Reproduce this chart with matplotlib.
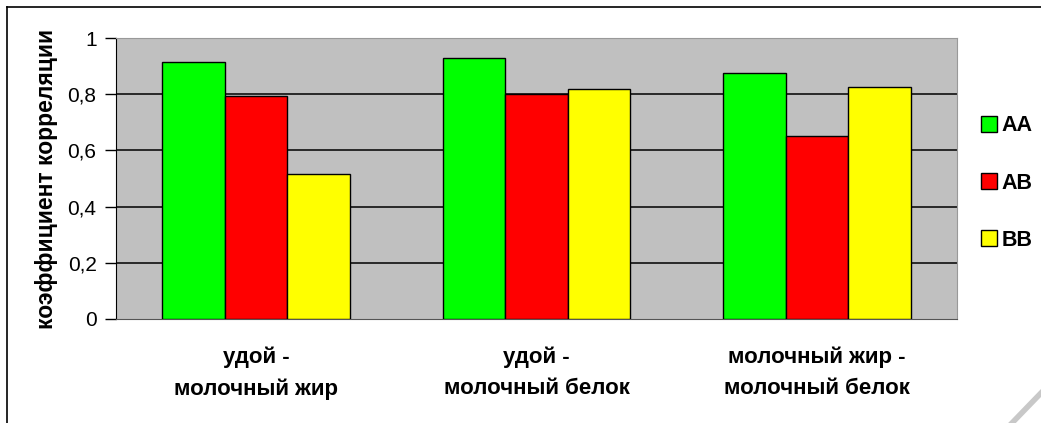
import numpy as np
import matplotlib
matplotlib.use("Agg")
import matplotlib.pyplot as plt
from matplotlib.ticker import FuncFormatter
from matplotlib.lines import Line2D

plt.rcParams['font.family'] = ['Liberation Sans', 'DejaVu Sans']

categories = ["удой -\nмолочный жир", "удой -\nмолочный белок", "молочный жир -\nмолочный белок"]
genotypes = ["AA", "AB", "BB"]
aa = [0.915, 0.93, 0.875]
ab = [0.795, 0.80, 0.652]
bb = [0.515, 0.818, 0.827]
colors = ["#00FF00", "#FF0000", "#FFFF00"]

fig = plt.figure(figsize=(10.41, 4.23), dpi=100)
ax = fig.add_axes([116/1041, 1-319/423, 841/1041, 281/423])
ax.set_facecolor("#C0C0C0")

x = np.arange(len(categories))
w = 0.223
for i, (vals, col, name) in enumerate(zip([aa, ab, bb], colors, genotypes)):
    ax.bar(x + (i-1)*w, vals, w, color=col, edgecolor="black", linewidth=1, label=name, zorder=3)

ax.set_xlim(-0.5, 2.5)
ax.set_ylim(0, 1)
ax.set_yticks([0, 0.2, 0.4, 0.6, 0.8, 1])
ax.yaxis.set_major_formatter(FuncFormatter(lambda v, p: ("%g" % round(v, 1)).replace(".", ",")))
ax.set_xticks(x)
ax.set_xticklabels(categories, fontsize=16, fontweight="bold", linespacing=1.6)
ax.tick_params(axis="x", length=0, pad=20)
ax.tick_params(axis="y", length=8, width=1, labelsize=15, pad=6, direction="out")
ax.set_ylabel("коэффициент корреляции", fontsize=16.5, fontweight="bold", labelpad=7)

for y in [0.2, 0.4, 0.6, 0.8]:
    ax.axhline(y, color="black", linewidth=1.1, zorder=1)
ax.axhline(1.0, color="#999999", linewidth=1.2, zorder=1)

for s in ["top", "right"]:
    ax.spines[s].set_color("#999999")
ax.spines["left"].set_color("black")
ax.spines["bottom"].set_color("#555555")

handles = [Line2D([], [], marker="s", linestyle="none", markersize=11,
                  markerfacecolor=c, markeredgecolor="black") for c in colors]
leg = fig.legend(handles, genotypes, loc="center left", bbox_to_anchor=(978/1041, 1-183/423),
                 frameon=False, prop={"size": 15.5, "weight": "bold"}, handletextpad=0.1,
                 labelspacing=1.68, handlelength=1.0, borderpad=0, borderaxespad=0)

# page frame
fig.add_artist(Line2D([7/1041, 7/1041], [0, 1-7/423], color="black", linewidth=1.2))
fig.add_artist(Line2D([7/1041, 1], [1-7/423, 1-7/423], color="black", linewidth=1.2))
fig.add_artist(Line2D([1012/1041, 1], [0, 1-393/423], color="#C8C8C8", linewidth=4))

fig.savefig("out.png", dpi=100)
